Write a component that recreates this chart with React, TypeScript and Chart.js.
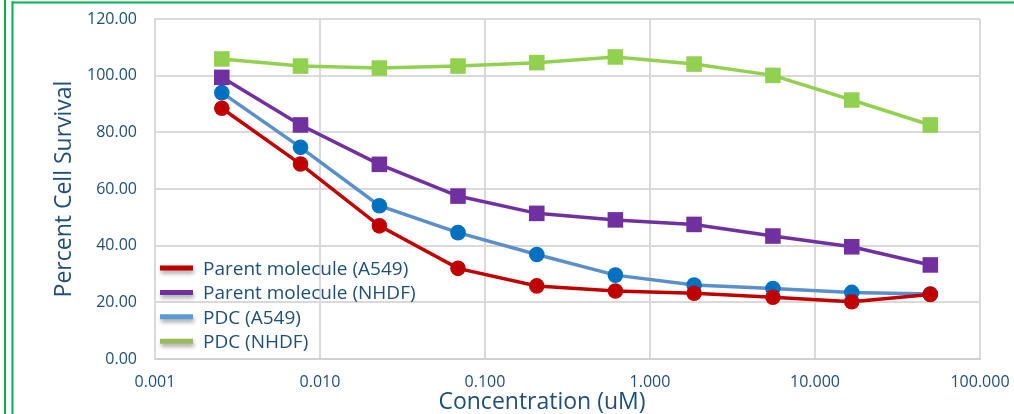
import { useEffect, useRef } from "react";
import { Chart, registerables } from "chart.js";

Chart.register(...registerables);

const CONCENTRATIONS = [0.00254, 0.00762, 0.0229, 0.0686, 0.206, 0.617, 1.85, 5.56, 16.7, 50];
const PARENT_A549 = [88.5, 68.8, 47.0, 32.0, 25.8, 24.0, 23.2, 21.8, 20.2, 22.8];
const PARENT_NHDF = [99.4, 82.6, 68.7, 57.5, 51.4, 49.1, 47.5, 43.4, 39.6, 33.2];
const PDC_A549 = [94.0, 74.7, 54.1, 44.6, 36.9, 29.6, 26.1, 24.9, 23.5, 22.9];
const PDC_NHDF = [105.9, 103.4, 102.7, 103.4, 104.6, 106.6, 104.1, 100.1, 91.4, 82.6];

const SERIES_LABELS = [
  "Parent molecule (A549)",
  "Parent molecule (NHDF)",
  "PDC (A549)",
  "PDC (NHDF)",
];
const X_TICKS = [0.001, 0.01, 0.1, 1, 10, 100];
const Y_MIN = 0;
const Y_MAX = 120;
const Y_STEP = 20;
const X_TITLE = "Concentration (uM)";
const Y_TITLE = "Percent Cell Survival";

const LINE_COLORS = ["#C00000", "#7030A0", "#5B8FCB", "#92D050"];
const MARKER_COLORS = ["#C00000", "#7030A0", "#0070C0", "#92D050"];
const LEGEND_COLORS = ["#C00000", "#7030A0", "#5B9BD5", "#9BBB59"];
const MARKER_STYLES = ["circle", "rect", "circle", "rect"];
const TEXT_COLOR = "#1F4E79";
const FONT = "'Open Sans', 'DejaVu Sans', sans-serif";

const decorPlugin = {
  id: "decor",
  beforeDraw(chart: any) {
    const ctx = chart.ctx;
    ctx.save();
    ctx.fillStyle = "#FFFFFF";
    ctx.fillRect(0, 0, chart.width, chart.height);
    ctx.fillStyle = "#00B050";
    ctx.fillRect(4, 0, 2, chart.height);
    ctx.fillRect(11.5, 1.5, 2, chart.height);
    ctx.fillRect(11.5, 1.5, chart.width, 2);
    ctx.restore();
  },
  afterDraw(chart: any) {
    const ctx = chart.ctx;
    const area = chart.chartArea;
    ctx.save();
    // axis titles
    ctx.fillStyle = TEXT_COLOR;
    ctx.font = `23px ${FONT}`;
    ctx.textAlign = "center";
    ctx.textBaseline = "alphabetic";
    ctx.fillText(X_TITLE, 542, 409);
    ctx.save();
    ctx.translate(71, (area.top + area.bottom) / 2);
    ctx.rotate(-Math.PI / 2);
    ctx.fillText(Y_TITLE, 0, 0);
    ctx.restore();
    // legend
    const startY = 268;
    const gap = 24.4;
    ctx.font = `19px ${FONT}`;
    ctx.textAlign = "left";
    SERIES_LABELS.forEach((label, i) => {
      const y = startY + i * gap;
      ctx.save();
      ctx.shadowColor = "rgba(0,0,0,0.35)";
      ctx.shadowBlur = 4;
      ctx.shadowOffsetX = 1;
      ctx.shadowOffsetY = 3;
      ctx.strokeStyle = LEGEND_COLORS[i];
      ctx.lineWidth = 5;
      ctx.beginPath();
      ctx.moveTo(160, y);
      ctx.lineTo(193, y);
      ctx.stroke();
      ctx.restore();
      ctx.fillStyle = TEXT_COLOR;
      ctx.fillText(label, 203, y + 7);
    });
    ctx.restore();
  },
};

export default function App() {
  const ref = useRef<HTMLCanvasElement | null>(null);
  useEffect(() => {
    if (!ref.current) return;
    const seriesValues = [PARENT_A549, PARENT_NHDF, PDC_A549, PDC_NHDF];
    const datasets = seriesValues.map((vals, i) => ({
      label: SERIES_LABELS[i],
      data: vals.map((v, j) => ({ x: CONCENTRATIONS[j], y: v })),
      borderColor: LINE_COLORS[i],
      backgroundColor: MARKER_COLORS[i],
      pointBackgroundColor: MARKER_COLORS[i],
      pointBorderColor: MARKER_COLORS[i],
      pointBorderWidth: 0,
      borderWidth: 3.5,
      pointStyle: MARKER_STYLES[i],
      pointRadius: MARKER_STYLES[i] === "rect" ? 11 : 7.8,
      tension: 0,
    }));
    const chart = new Chart(ref.current, {
      type: "line",
      data: { datasets },
      plugins: [decorPlugin],
      options: {
        animation: false,
        responsive: false,
        devicePixelRatio: 1,
        layout: { padding: { left: 0, top: 19, right: 34, bottom: 0 } },
        plugins: {
          legend: { display: false },
          tooltip: { enabled: false },
          title: { display: false },
        },
        scales: {
          x: {
            type: "logarithmic",
            min: X_TICKS[0],
            max: X_TICKS[X_TICKS.length - 1],
            afterBuildTicks: (scale: any) => {
              scale.ticks = X_TICKS.map((v) => ({ value: v }));
            },
            afterFit: (scale: any) => {
              scale.height = 55;
              scale.paddingLeft = 0;
              scale.paddingRight = 0;
            },
            ticks: {
              autoSkip: false,
              maxRotation: 0,
              padding: 14,
              color: TEXT_COLOR,
              font: { family: FONT, size: 16 },
              callback: (v: any) => Number(v).toFixed(3),
            },
            grid: { color: "#D9D9D9", lineWidth: 2, drawTicks: false },
            border: { color: "#D0D0D0", width: 2 },
          },
          y: {
            min: Y_MIN,
            max: Y_MAX,
            afterFit: (scale: any) => {
              scale.width = 155;
              scale.paddingTop = 0;
              scale.paddingBottom = 0;
            },
            ticks: {
              stepSize: Y_STEP,
              padding: 18,
              color: TEXT_COLOR,
              font: { family: FONT, size: 16 },
              callback: (v: any) => Number(v).toFixed(2),
            },
            grid: { color: "#D9D9D9", lineWidth: 2, drawTicks: false },
            border: { color: "#D9D9D9", width: 2 },
          },
        },
      },
    } as any);
    return () => chart.destroy();
  }, []);
  return (
    <div style={{ position: "absolute", left: 0, top: 0, width: 1014, height: 414 }}>
      <canvas ref={ref} width={1014} height={414} />
    </div>
  );
}
